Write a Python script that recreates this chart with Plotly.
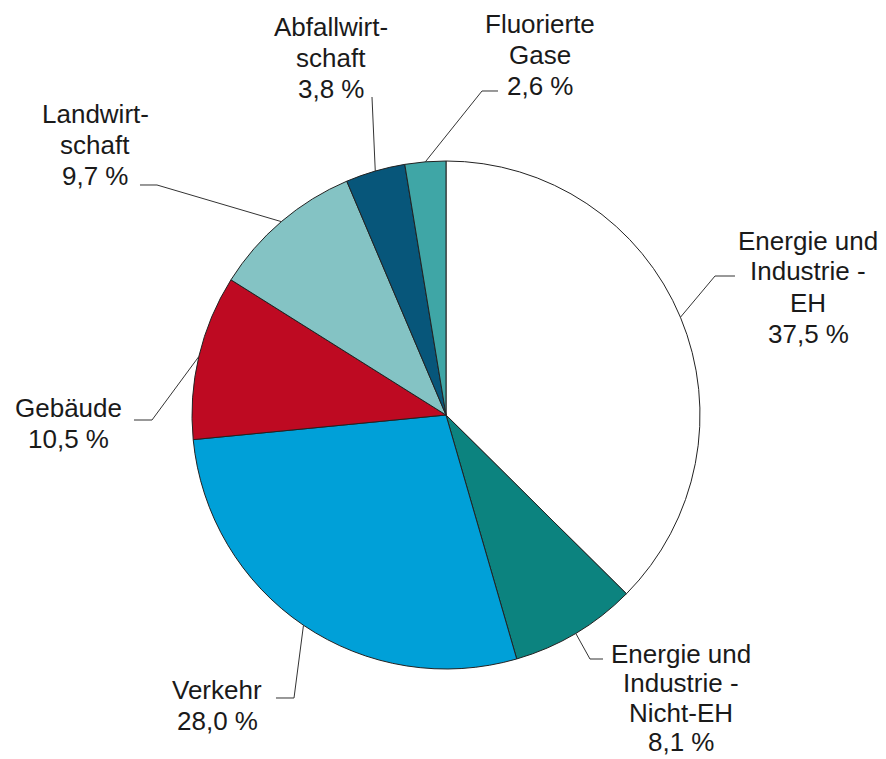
import math
import plotly.graph_objects as go

# ---- data ----
categories = [
    "Energie und<br>Industrie -<br>EH",
    "Energie und<br>Industrie -<br>Nicht-EH",
    "Verkehr",
    "Gebäude",
    "Landwirt-<br>schaft",
    "Abfallwirt-<br>schaft",
    "Fluorierte<br>Gase",
]
shares = [37.5, 8.1, 28.0, 10.5, 9.7, 3.8, 2.6]
colors = ["#FFFFFF", "#0C837F", "#00A0D8", "#BE0A22", "#84C3C4", "#07567A", "#3FA6A6"]

# ---- layout constants (pixels) ----
W, H = 886, 759
CX, CY, R = 446, 415, 254
FONT = "Liberation Sans, Arial, sans-serif"
FONT_SIZE = 26

# label block centres, line spacing, and leader elbow / end points (pixels)
label_pos = [(808, 287), (681, 698), (217, 705), (68, 423), (95, 145), (331, 58), (540, 55)]
line_sp = [31, 29.5, 31, 31, 31, 31, 31]
elbows = [
    [(715, 276), (735, 276)],
    [(590, 659), (603, 659)],
    [(294, 698), (276, 698)],
    [(152, 420), (134, 420)],
    [(157, 185), (140, 185)],
    [(372, 97)],
    [(482, 91), (498, 91)],
]


def px(x):
    return x / W


def py(y):
    return 1 - y / H


fig = go.Figure(
    go.Pie(
        labels=[c.replace("<br>", " ") for c in categories],
        values=shares,
        sort=False,
        direction="clockwise",
        rotation=0,
        marker=dict(colors=colors, line=dict(color="#222222", width=1)),
        textinfo="none",
        hoverinfo="label+percent",
        domain=dict(x=[px(CX - R), px(CX + R)], y=[py(CY + R), py(CY - R)]),
        showlegend=False,
    )
)

total = sum(shares)
cum = 0.0
shapes = []
annotations = []
for i, (cat, v) in enumerate(zip(categories, shares)):
    mid = (cum + v / 2) / total * 2 * math.pi
    cum += v
    sx = CX + R * math.sin(mid)
    sy = CY - R * math.cos(mid)
    pts = [(sx, sy)] + elbows[i]
    path = "M " + " L ".join(f"{px(x):.5f},{py(y):.5f}" for x, y in pts)
    shapes.append(dict(type="path", xref="paper", yref="paper", path=path,
                       line=dict(color="#333333", width=1)))
    lines = cat.split("<br>") + [f"{v:.1f}".replace(".", ",") + " %"]
    lx, ly = label_pos[i]
    n = len(lines)
    for k, t in enumerate(lines):
        yy = ly + (k - (n - 1) / 2) * line_sp[i]
        annotations.append(dict(x=px(lx), y=py(yy), xref="paper", yref="paper",
                                text=t, showarrow=False, xanchor="center", yanchor="middle",
                                align="center",
                                font=dict(family=FONT, size=FONT_SIZE, color="#1a1a1a")))

fig.update_layout(
    width=W, height=H,
    margin=dict(l=0, r=0, t=0, b=0),
    paper_bgcolor="white",
    plot_bgcolor="white",
    shapes=shapes,
    annotations=annotations,
)

fig.write_html("out.html")
